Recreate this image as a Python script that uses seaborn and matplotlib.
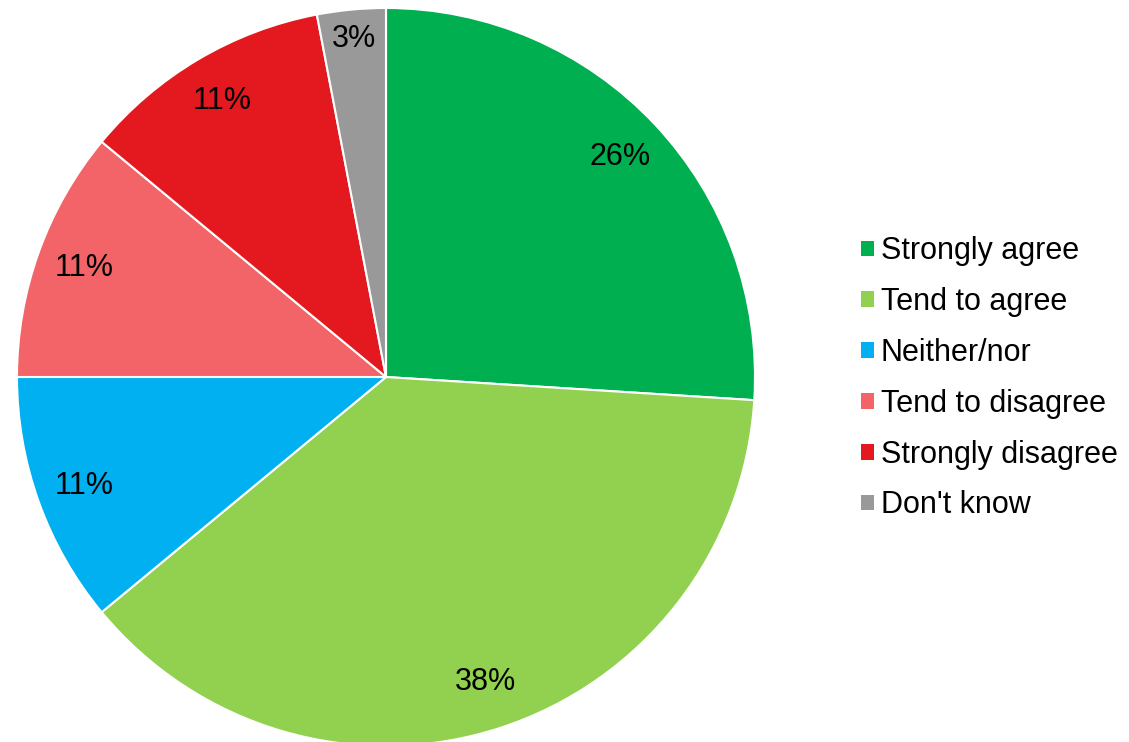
import matplotlib
matplotlib.use("Agg")
import matplotlib.pyplot as plt
from matplotlib.patches import Patch
import numpy as np
import seaborn as sns

categories = ["Strongly agree", "Tend to agree", "Neither/nor",
              "Tend to disagree", "Strongly disagree", "Don't know"]
shares = [26, 38, 11, 11, 11, 3]
colours = ["#00B050", "#92D050", "#00B0F0", "#F26467", "#E3191F", "#999999"]

sns.set_theme(style="white")
plt.rcParams["font.family"] = ["Liberation Sans", "DejaVu Sans"]

fig = plt.figure(figsize=(11.29, 7.42), dpi=100)
# square axes holding the pie, centre around (386, 377) px
ax = fig.add_axes([17 / 1129, -4 / 742, 738 / 1129, 738 / 742])

wedges, texts, autotexts = ax.pie(
    shares, colors=sns.color_palette(colours), startangle=90, counterclock=False,
    autopct="%d%%", pctdistance=0.87,
    wedgeprops=dict(edgecolor="white", linewidth=1.5),
    textprops=dict(fontsize=22, color="black"),
)
# the small slice label sits a bit further out
w = wedges[-1]
mid = np.deg2rad((w.theta1 + w.theta2) / 2)
autotexts[-1].set_position((0.92 * np.cos(mid), 0.92 * np.sin(mid)))

ax.set_xlim(-1, 1)
ax.set_ylim(-1, 1)
ax.set_aspect("equal")

handles = [Patch(facecolor=c, edgecolor="none") for c in colours]
fig.legend(handles, categories, loc="center left", bbox_to_anchor=(0.752, 0.490),
           frameon=False, fontsize=22, labelcolor="black",
           handlelength=0.42, handleheight=0.42,
           handletextpad=0.22, labelspacing=0.68, borderaxespad=0)

fig.savefig("out.png", dpi=100)
plt.close(fig)
